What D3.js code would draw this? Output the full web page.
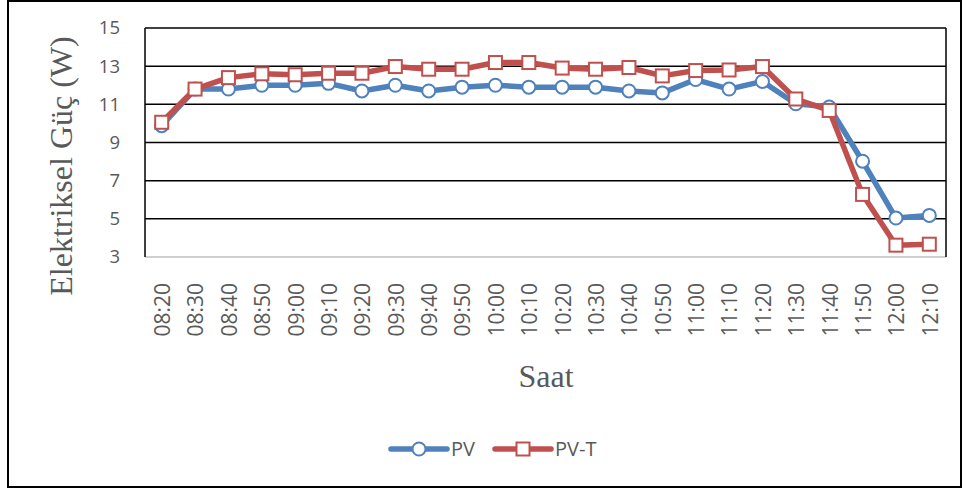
<!DOCTYPE html>
<html>
<head>
<meta charset="utf-8">
<script src="https://cdn.jsdelivr.net/npm/d3@7"></script>
<style>
body { margin: 0; background: #fff; }
.tick text { fill: #595959; }
</style>
</head>
<body>
<svg class="chart-svg" width="968" height="492"></svg>
<script>
// saat etiketleri
var hours = ["08:20","08:30","08:40","08:50","09:00","09:10","09:20","09:30","09:40","09:50",
	"10:00","10:10","10:20","10:30","10:40","10:50","11:00","11:10","11:20","11:30",
	"11:40","11:50","12:00","12:10"]
var pv = [9.88, 11.8, 11.8, 12.0, 12.0, 12.1, 11.7, 12.0, 11.7, 11.9,
	12.0, 11.9, 11.9, 11.9, 11.7, 11.6, 12.3, 11.8, 12.2, 11.03,
	10.86, 8.02, 5.04, 5.18]
var pvt = [10.06, 11.8, 12.4, 12.6, 12.55, 12.63, 12.63, 12.98, 12.84, 12.84,
	13.19, 13.19, 12.9, 12.84, 12.93, 12.49, 12.77, 12.8, 12.98, 11.28,
	10.68, 6.28, 3.62, 3.67]
var yTicks = [3, 5, 7, 9, 11, 13, 15]

var series = [
	{name: "PV", values: pv, color: "#4F81BD", marker: "circle"},
	{name: "PV-T", values: pvt, color: "#C0504D", marker: "square"}
]

var svg = d3.select(".chart-svg")
var sansFont = "'Open Sans', 'Noto Sans', sans-serif"
var serifFont = "'Liberation Serif', 'DejaVu Serif', serif"

// dis cerceve
svg.append("rect")
	.attr("x", 8).attr("y", 1)
	.attr("width", 953).attr("height", 486)
	.attr("fill", "#fff")
	.attr("stroke", "#000")
	.attr("stroke-width", 2)

var plotLeft = 145, plotRight = 946, plotTop = 28, plotBottom = 257

var x = d3.scaleBand()
	.domain(hours)
	.range([plotLeft, plotRight])
var y = d3.scaleLinear()
	.domain([3, 15])
	.range([plotBottom, plotTop])

// yatay izgara
svg.append("g")
	.selectAll("line")
	.data(yTicks.filter(function(d) { return d > 3 }))
	.enter().append("line")
	.attr("x1", plotLeft).attr("x2", plotRight)
	.attr("y1", function(d) { return y(d) })
	.attr("y2", function(d) { return y(d) })
	.attr("stroke", "#000")
	.attr("stroke-width", 1.5)

svg.append("line")
	.attr("x1", plotLeft).attr("x2", plotRight)
	.attr("y1", plotBottom).attr("y2", plotBottom)
	.attr("stroke", "#d0d0d0")
	.attr("stroke-width", 2)
svg.append("line")
	.attr("x1", plotLeft).attr("x2", plotLeft)
	.attr("y1", plotTop).attr("y2", plotBottom)
	.attr("stroke", "#000")
	.attr("stroke-width", 1.5)
svg.append("line")
	.attr("x1", plotRight).attr("x2", plotRight)
	.attr("y1", plotTop).attr("y2", plotBottom)
	.attr("stroke", "#000")
	.attr("stroke-width", 1.5)

// y ekseni
var yAxis = svg.append("g")
	.attr("transform", "translate(" + 128 + ",0)")
	.call(d3.axisLeft(y).tickValues(yTicks).tickSize(0).tickPadding(8))
yAxis.select(".domain").remove()
yAxis.selectAll("text")
	.attr("font-family", sansFont)
	.attr("font-size", 18.5)

// x ekseni
var xAxis = svg.append("g")
	.attr("transform", "translate(0," + plotBottom + ")")
	.call(d3.axisBottom(x).tickSize(0))
xAxis.select(".domain").remove()
xAxis.selectAll("text")
	.attr("font-family", sansFont)
	.attr("font-size", 21)
	.attr("text-anchor", "end")
	.attr("dy", "0.35em")
	.attr("transform", "translate(1,26) rotate(-90)")
	.attr("y", 0)
	.attr("x", 0)

svg.append("text")
	.attr("transform", "translate(" + 72 + "," + 166 + ") rotate(-90)")
	.attr("text-anchor", "middle")
	.attr("font-family", serifFont)
	.attr("font-size", 32)
	.attr("fill", "#595959")
	.text("Elektriksel Güç (W)")

svg.append("text")
	.attr("x", 546).attr("y", 387)
	.attr("text-anchor", "middle")
	.attr("font-family", serifFont)
	.attr("font-size", 32)
	.attr("fill", "#595959")
	.text("Saat")

var line = d3.line()
	.x(function(d, i) { return x(hours[i]) + x.bandwidth() / 2 })
	.y(function(d) { return y(d) })

function drawMarker(g, type, color, cx, cy) {
	if (type == "circle") {
		g.append("circle")
			.attr("cx", cx).attr("cy", cy).attr("r", 6.5)
			.attr("fill", "#fff")
			.attr("stroke", color)
			.attr("stroke-width", 2)
	} else {
		g.append("rect")
			.attr("x", cx - 6.5).attr("y", cy - 6.5)
			.attr("width", 13).attr("height", 13)
			.attr("fill", "#fff")
			.attr("stroke", color)
			.attr("stroke-width", 2)
	}
}

series.forEach(function(s) {
	var g = svg.append("g").attr("class", "series")
	g.append("path")
		.datum(s.values)
		.attr("fill", "none")
		.attr("stroke", s.color)
		.attr("stroke-width", 5.5)
		.attr("stroke-linejoin", "round")
		.attr("d", line)
	s.values.forEach(function(v, i) {
		drawMarker(g, s.marker, s.color, x(hours[i]) + x.bandwidth() / 2, y(v))
	})
})

// lejant
var legendX = [391, 495]
series.forEach(function(s, i) {
	var lg = svg.append("g").attr("transform", "translate(" + legendX[i] + "," + 449 + ")")
	lg.append("line")
		.attr("x1", 0).attr("x2", 56)
		.attr("stroke", s.color)
		.attr("stroke-width", 5.5)
		.attr("stroke-linecap", "round")
	drawMarker(lg, s.marker, s.color, 28, 0)
	lg.append("text")
		.attr("x", 60).attr("y", 0)
		.attr("dy", "0.36em")
		.attr("font-family", sansFont)
		.attr("font-size", 20)
		.attr("fill", "#595959")
		.text(s.name)
})
</script>
</body>
</html>
